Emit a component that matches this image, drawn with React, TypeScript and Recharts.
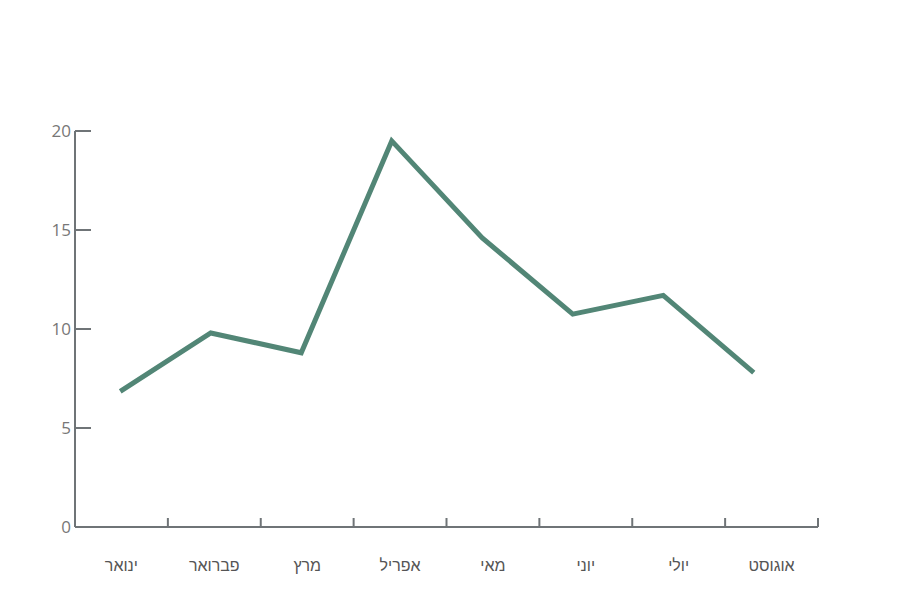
import { Line, LineChart, XAxis, YAxis } from 'recharts'

const months = ['ינואר', 'פברואר', 'מרץ', 'אפריל', 'מאי', 'יוני', 'יולי', 'אוגוסט']
const values = [6.85, 9.8, 8.8, 19.5, 14.6, 10.75, 11.7, 7.8]
const yTicks = [0, 5, 10, 15, 20]

const data = months.map((month, i) => ({ month, value: values[i] }))

const AXIS = '#6f7477'

function MonthTick(props: any) {
  const { x, y, payload } = props
  const off = payload.offset || 0
  return (
    <g>
      <line x1={x + off} y1={y} x2={x + off} y2={y - 9} stroke={AXIS} strokeWidth={2} />
      <text x={x} y={y + 44} textAnchor="middle" fill="#555" fontSize={16} fontFamily="'Liberation Sans', 'DejaVu Sans', sans-serif">
        {payload.value}
      </text>
    </g>
  )
}

function ValueTick(props: any) {
  const { x, y, payload } = props
  return (
    <g>
      <line x1={x + 4} y1={y} x2={x + 20} y2={y} stroke={AXIS} strokeWidth={2} />
      <text x={x} y={y + 6} textAnchor="end" fill="#777" fontSize={17} fontFamily="'Open Sans', 'DejaVu Sans', sans-serif">
        {payload.value}
      </text>
    </g>
  )
}

export default function App() {
  return (
    <div style={{ position: 'absolute', left: 0, top: 0, background: '#fff' }}>
      <LineChart width={917} height={611} data={data} margin={{ top: 131, right: 99, bottom: 0, left: 0 }}>
        <XAxis
          dataKey="month"
          scale="band"
          axisLine={{ stroke: AXIS, strokeWidth: 2 }}
          tickLine={false}
          tickSize={0}
          tickMargin={0}
          height={84}
          interval={0}
          tick={<MonthTick />}
        />
        <XAxis xAxisId="line" dataKey="month" scale="band" hide padding={{ left: 0, right: 19 }} />
        <YAxis
          domain={[0, 20]}
          ticks={yTicks}
          width={75}
          axisLine={{ stroke: AXIS, strokeWidth: 2 }}
          tickLine={false}
          tickSize={0}
          tickMargin={4}
          tick={<ValueTick />}
        />
        <Line
          xAxisId="line"
          dataKey="value"
          stroke="#528676"
          strokeWidth={5}
          dot={false}
          isAnimationActive={false}
          strokeLinejoin="miter"
        />
      </LineChart>
    </div>
  )
}
